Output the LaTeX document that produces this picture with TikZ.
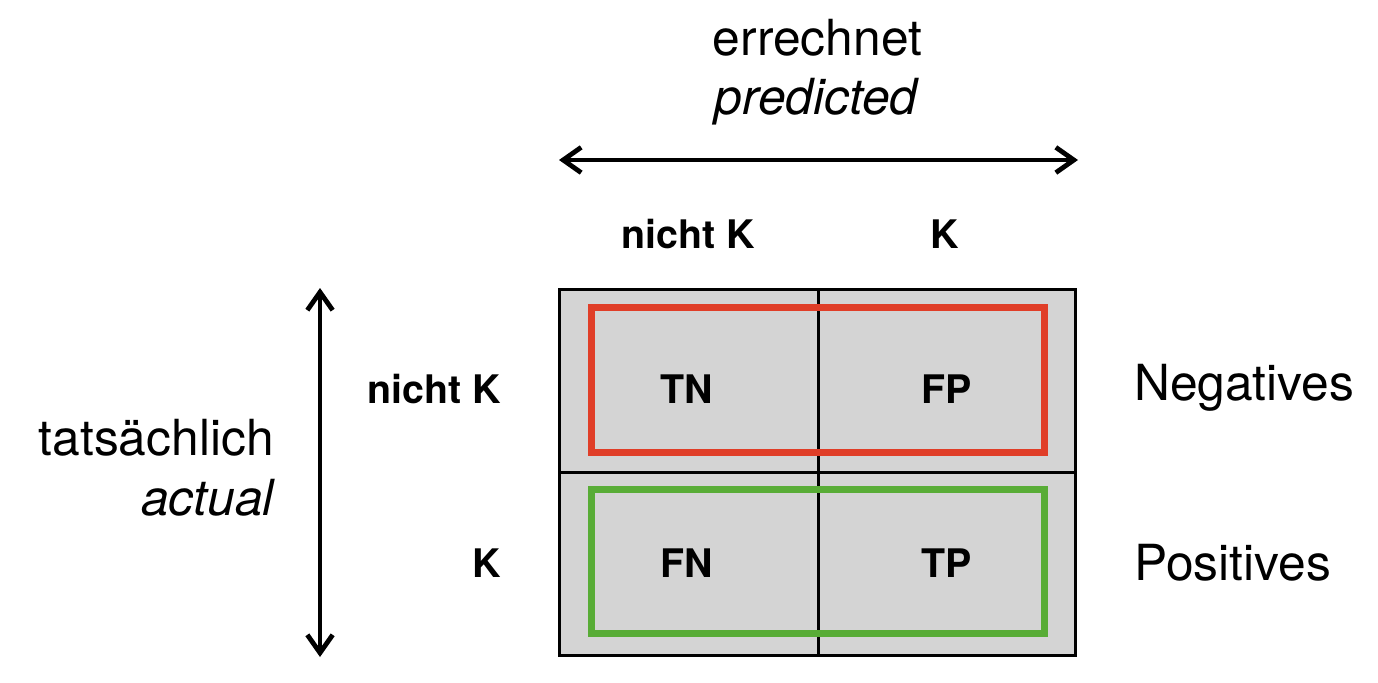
\documentclass[tikz,border=0pt]{standalone}
\usepackage{fontspec}
\setmainfont{TeX Gyre Heros}
\usepackage{tikz}
\usetikzlibrary{arrows.meta}
\definecolor{negred}{RGB}{224,62,40}
\definecolor{posgreen}{RGB}{88,172,54}
\definecolor{cellgray}{RGB}{212,212,212}
\tikzset{
  bigtext/.style={inner sep=0pt, font=\fontsize{37.3}{44}\selectfont},
  celltext/.style={inner sep=0pt, font=\fontsize{29.5}{34}\selectfont\bfseries},
  axisarrow/.style={line width=3.6pt, {Straight Barb[length=13.5pt,width=19pt]}-{Straight Barb[length=13.5pt,width=19pt]}}
}
\begin{document}
\begin{tikzpicture}[x=0.75pt,y=0.75pt,yscale=-1,xscale=1]
\useasboundingbox (0,0) rectangle (1378,682);

%Shape: Rectangle [grid] 
\draw [line width=2.25pt, fill=cellgray] (559.5,289.5) rectangle (1075.5,655);
%Straight Lines [grid middle] 
\draw [line width=2.25pt] (818,289.5) -- (818,655);
\draw [line width=2.25pt] (559.5,472.5) -- (1075.5,472.5);
%Shape: Rectangle [negatives] 
\draw [line width=5.25pt, color=negred] (591,307.5) rectangle (1044.5,452.5);
%Shape: Rectangle [positives] 
\draw [line width=5.25pt, color=posgreen] (591,489.5) rectangle (1044.5,633.5);

%Arrows
\coordinate (predleft) at (559,160);
\coordinate (predright) at (1078,160);
\draw [axisarrow] (predleft) -- (predright);
\coordinate (acttop) at (320,288);
\coordinate (actbottom) at (320,657);
\draw [axisarrow] (acttop) -- (actbottom);

% Text Node
\node (errechnet) [bigtext, anchor=base] at (817.5,55) {errechnet};
\node (predicted) [bigtext, anchor=base] at (816,114) {\itshape predicted};
\node (tats) [bigtext, anchor=base east] at (274,455) {tatsächlich};
\node (actual) [bigtext, anchor=base east] at (274,515) {\itshape actual};
\node (neg) [bigtext, anchor=base west] at (1134,400) {Negatives};
\node (pos) [bigtext, anchor=base west] at (1134,580) {Positives};
% Text Node
\node (colnk) [celltext, anchor=base] at (688,248) {nicht K};
\node (colk) [celltext, anchor=base] at (945,248) {K};
\node (rownk) [celltext, anchor=base east] at (501,403) {nicht K};
\node (rowk) [celltext, anchor=base east] at (501,577) {K};
% Text Node
\node (tn) [celltext, anchor=base] at (687,403) {TN};
\node (fp) [celltext, anchor=base] at (947,403) {FP};
\node (fn) [celltext, anchor=base] at (687,577) {FN};
\node (tp) [celltext, anchor=base] at (947,577) {TP};
\end{tikzpicture}
\end{document}
